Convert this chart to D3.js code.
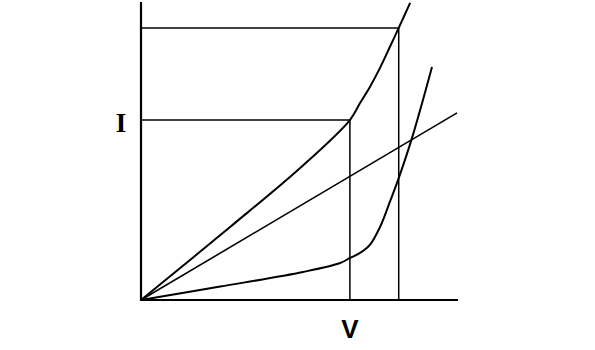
<!DOCTYPE html>
<html>
<head>
<meta charset="utf-8">
<script src="https://cdn.jsdelivr.net/npm/d3@7"></script>
<style>
  html, body { margin: 0; padding: 0; background: #fff; }
  svg { display: block; }
</style>
</head>
<body>
<div id="chart"></div>
<script>
var width = 595,
	height = 350;

// values in chart units (V across, I up)
var diodeV = [0, 2.81, 5.02, 6.59, 6.91, 7.22, 7.54, 7.85, 8.13, 8.49];
var diodeI = [0, 2.45, 4.43, 6.04, 6.61, 7.15, 7.79, 8.49, 9.13, 9.97];

var resistorV = [0, 9.97];
var resistorI = [0, 6.28];

var kneeV = [0, 2.5, 5.11, 6.28, 6.59, 6.91, 7.22, 7.54, 7.85, 8.13, 8.55, 9.18];
var kneeI = [0, 0.45, 0.94, 1.24, 1.41, 1.58, 1.85, 2.45, 3.29, 4.09, 5.44, 7.82];

// the two operating points marked with guide lines
var markV = [6.59, 8.13];
var markI = [6.04, 9.13];

var axisLabels = ["I", "V"];

var x = d3.scaleLinear().domain([0, 10]).range([141, 458]);
var y = d3.scaleLinear().domain([0, 10]).range([300, 2]);

var svg = d3.select("#chart").append("svg")
	.attr("width", width)
	.attr("height", height);

var zip = function(xs, ys) {
	return xs.map(function(d, i) { return { v: d, i: ys[i] }; });
};

var line = d3.line()
	.x(function(d) { return x(d.v); })
	.y(function(d) { return y(d.i); })
	.curve(d3.curveCatmullRom.alpha(0.5));

// guide lines down to the axes
var guides = svg.append("g").attr("stroke", "#000").attr("stroke-width", 1.5);
markV.forEach(function(v, k) {
	guides.append("line")
		.attr("x1", x(0)).attr("x2", x(v))
		.attr("y1", y(markI[k])).attr("y2", y(markI[k]));
	guides.append("line")
		.attr("x1", x(v)).attr("x2", x(v))
		.attr("y1", y(markI[k])).attr("y2", y(0));
});

// the three curves
var curves = [zip(diodeV, diodeI), zip(resistorV, resistorI), zip(kneeV, kneeI)];
svg.append("g").selectAll("path")
	.data(curves)
	.enter()
	.append("path")
	.attr("d", line)
	.attr("fill", "none")
	.attr("stroke", "#000")
	.attr("stroke-width", function(d, i) { return i === 1 ? 1.6 : 2; });

// axes, plain lines without ticks
svg.append("line")
	.attr("x1", x(0)).attr("x2", x(0))
	.attr("y1", y(0) + 1).attr("y2", y(10))
	.attr("stroke", "#000").attr("stroke-width", 2.2);
svg.append("line")
	.attr("x1", x(0)).attr("x2", x(10))
	.attr("y1", y(0)).attr("y2", y(0))
	.attr("stroke", "#000").attr("stroke-width", 2);

// axis letters
svg.append("text")
	.attr("x", 121)
	.attr("y", 132)
	.attr("text-anchor", "middle")
	.style("font-family", "'Liberation Serif', 'DejaVu Serif', serif")
	.style("font-weight", "bold")
	.style("font-size", "27px")
	.text(axisLabels[0]);

svg.append("text")
	.attr("x", x(markV[0]))
	.attr("y", 338)
	.attr("text-anchor", "middle")
	.style("font-family", "'Liberation Sans', Arial, sans-serif")
	.style("font-weight", "bold")
	.style("font-size", "26px")
	.text(axisLabels[1]);
</script>
</body>
</html>
